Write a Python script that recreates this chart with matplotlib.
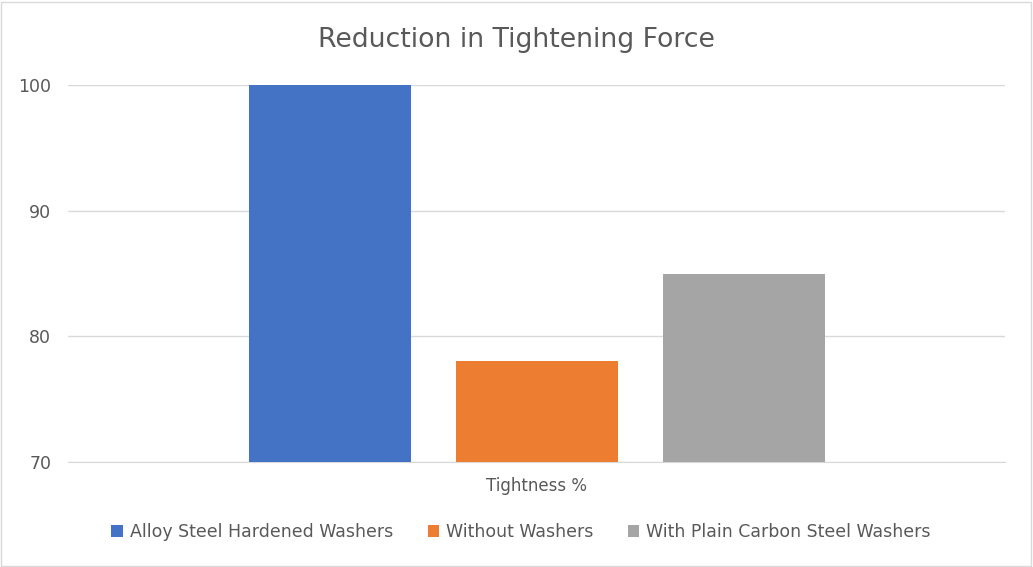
import matplotlib
matplotlib.use("Agg")
import matplotlib.pyplot as plt
from matplotlib.patches import Rectangle

categories = ["Tightness %"]
series_names = ["Alloy Steel Hardened Washers", "Without Washers", "With Plain Carbon Steel Washers"]
series_values = [100, 78, 85]
colors = ["#4472C4", "#ED7D31", "#A5A5A5"]
yticks = [70, 80, 90, 100]

W, H = 1033, 567
fig = plt.figure(figsize=(W/100, H/100), dpi=100)
fig.patch.set_facecolor("white")
fig.add_artist(Rectangle((1/W, 1/H), 1 - 3/W, 1 - 3/H, transform=fig.transFigure,
                         fill=False, edgecolor="#D9D9D9", linewidth=1))

ax = fig.add_axes([68/W, (H-462)/H, (1005-68)/W, (462-85)/H])
positions = [0, 1, 2]
for p, v, c, n in zip(positions, series_values, colors, series_names):
    ax.bar(p, v - 70, bottom=70, width=0.783, color=c, label=n, zorder=3)

ax.set_ylim(70, 100)
ax.set_xlim(1 - (537 - 68)/207, 1 + (1005 - 537)/207)
ax.set_yticks(yticks)
ax.set_yticklabels([str(t) for t in yticks], color="#595959", fontsize=12.5)
ax.yaxis.grid(True, color="#D9D9D9", linewidth=1, zorder=0)
ax.set_xticks([1])
ax.set_xticklabels(categories, color="#595959", fontsize=12)
ax.tick_params(axis="both", length=0)
ax.tick_params(axis="y", pad=12)
ax.tick_params(axis="x", pad=11)
for s in ["top", "right", "left"]:
    ax.spines[s].set_visible(False)
ax.spines["bottom"].set_color("#D9D9D9")

fig.text(516/W, 1 - 40/H, "Reduction in Tightening Force", ha="center", va="center",
         fontsize=19.3, color="#595959")

fig.legend(loc="center", bbox_to_anchor=(521/W, 1 - 532/H), ncol=3, frameon=False,
           fontsize=12.5, labelcolor="#595959", handlelength=0.65, handleheight=0.65,
           columnspacing=2.0, handletextpad=0.4)

fig.savefig("out.png", dpi=100)
